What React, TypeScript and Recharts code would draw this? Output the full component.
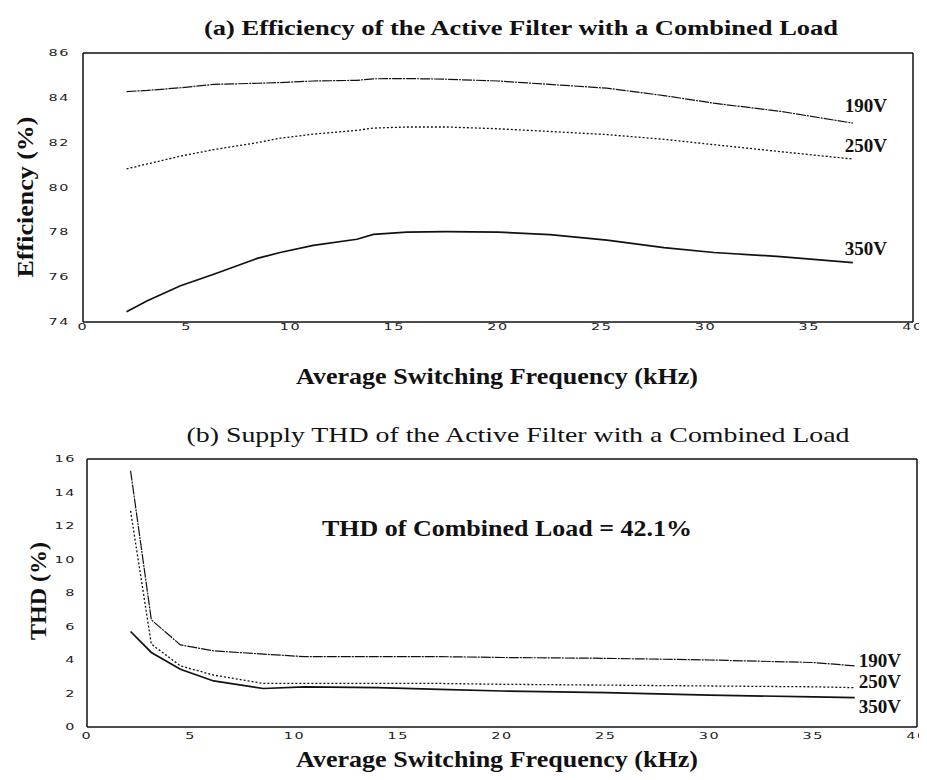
import React from 'react';
import { LineChart, Line, XAxis, YAxis } from 'recharts';

// ---------- (a) Efficiency ----------
const effFreq = [2.1, 3.1, 4.7, 6.3, 8.4, 9.5, 11.1, 13.2, 14.0, 15.6, 17.5, 20, 22.5, 25.25, 28, 30.4, 33.6, 37.1];
const eff190 = [84.28, 84.33, 84.45, 84.6, 84.65, 84.68, 84.75, 84.78, 84.85, 84.86, 84.83, 84.75, 84.6, 84.43, 84.1, 83.76, 83.4, 82.87];
const eff250 = [80.83, 81.05, 81.4, 81.69, 82.0, 82.2, 82.38, 82.55, 82.65, 82.7, 82.7, 82.62, 82.5, 82.36, 82.15, 81.91, 81.6, 81.27];
const eff350 = [74.46, 74.95, 75.62, 76.13, 76.84, 77.1, 77.42, 77.69, 77.91, 78.01, 78.03, 78.01, 77.9, 77.65, 77.32, 77.1, 76.92, 76.65];
const effTicksY = [74, 76, 78, 80, 82, 84, 86];

// ---------- (b) THD ----------
const thdFreq = [2.1, 3.1, 4.5, 6.1, 8.5, 10.5, 14, 17, 20, 25, 30, 35, 37];
const thd190 = [15.3, 6.4, 4.9, 4.55, 4.35, 4.2, 4.2, 4.2, 4.15, 4.1, 4.0, 3.85, 3.65];
const thd250 = [12.9, 4.95, 3.65, 3.1, 2.6, 2.6, 2.6, 2.6, 2.55, 2.5, 2.45, 2.4, 2.35];
const thd350 = [5.7, 4.45, 3.45, 2.75, 2.3, 2.4, 2.35, 2.25, 2.15, 2.05, 1.9, 1.8, 1.75];
const thdTicksY = [0, 2, 4, 6, 8, 10, 12, 14, 16];

const freqTicks = [0, 5, 10, 15, 20, 25, 30, 35, 40];
const seriesNames = ['190V', '250V', '350V'];

const effData = effFreq.map((f, i) => ({ f, v190: eff190[i], v250: eff250[i], v350: eff350[i] }));
const thdData = thdFreq.map((f, i) => ({ f, v190: thd190[i], v250: thd250[i], v350: thd350[i] }));

const SERIF = '"Liberation Serif", "DejaVu Serif", serif';
const TICKFONT = '"DejaVu Sans", sans-serif';
const INK = '#111';

const WideTick = (props: any) => {
  const { x, y, payload, textAnchor } = props;
  return (
    <g transform={`translate(${x},${y})`}>
      <text transform="scale(1.6,1)" textAnchor={textAnchor} dy="0.35em"
        fontFamily={TICKFONT} fontSize={9} fill="#222" letterSpacing={1}>
        {payload.value}
      </text>
    </g>
  );
};

const endLabel = (text: string, last: number, dx: number, dy: number) => (props: any) => {
  if (props.index !== last) return <g />;
  return (
    <text x={props.x + dx} y={props.y + dy} fontFamily={SERIF} fontWeight="bold" fontSize={19} fill={INK} dominantBaseline="central">
      {text}
    </text>
  );
};

const lineStyle: Record<string, any> = {
  v190: { stroke: INK, strokeWidth: 1.2, strokeDasharray: '10 1 2 1' },
  v250: { stroke: INK, strokeWidth: 1.3, strokeDasharray: '2 2' },
  v350: { stroke: INK, strokeWidth: 1.7 },
};

const W = 919;

export default function App() {
  const effLast = effFreq.length - 1;
  const thdLast = thdFreq.length - 1;
  const keys = ['v190', 'v250', 'v350'];
  return (
    <div style={{ position: 'relative', width: W, height: 764, background: '#fff' }}>
      {/* Chart (a) */}
      <div style={{ position: 'absolute', left: 0, top: 0 }}>
        <LineChart width={W} height={340} data={effData} margin={{ top: 45, right: 14, bottom: 25, left: 74 }}>
          <XAxis xAxisId="x" dataKey="f" type="number" domain={[0, 40]} ticks={freqTicks} height={1}
            axisLine={{ stroke: INK, strokeWidth: 1.5 }} tickLine={false} tickSize={0} tickMargin={5}
            tick={<WideTick />} allowDataOverflow interval={0} />
          <XAxis xAxisId="xb" type="number" domain={[0, 40]} ticks={freqTicks} height={1} mirror
            axisLine={false} tickLine={{ stroke: INK }} tickSize={5} tick={false} allowDataOverflow interval={0} />
          <XAxis xAxisId="xt" orientation="top" type="number" domain={[0, 40]} ticks={freqTicks} height={1} mirror
            axisLine={{ stroke: INK, strokeWidth: 1.5 }} tickLine={{ stroke: INK }} tickSize={5} tick={false} allowDataOverflow interval={0} />
          <YAxis yAxisId="y" type="number" domain={[74, 86]} ticks={effTicksY} width={1}
            axisLine={{ stroke: INK, strokeWidth: 1.5 }} tickLine={false} tickSize={0} tickMargin={13}
            tick={<WideTick />} allowDataOverflow interval={0} />
          <YAxis yAxisId="yl" type="number" domain={[74, 86]} ticks={effTicksY} width={1} mirror
            axisLine={false} tickLine={{ stroke: INK }} tickSize={7} tick={false} allowDataOverflow interval={0} />
          <YAxis yAxisId="yr" orientation="right" type="number" domain={[74, 86]} ticks={effTicksY} width={1} mirror
            axisLine={{ stroke: INK, strokeWidth: 1.5 }} tickLine={{ stroke: INK }} tickSize={7} tick={false} allowDataOverflow interval={0} />
          {keys.map((k, i) => (
            <Line key={k} xAxisId="x" yAxisId="y" dataKey={k} type="linear" dot={false} isAnimationActive={false}
              {...lineStyle[k]}
              label={endLabel(seriesNames[i], effLast, -8, k === 'v190' ? -18 : -14)} />
          ))}
        </LineChart>
      </div>

      {/* Chart (b) */}
      <div style={{ position: 'absolute', left: 0, top: 400 }}>
        <LineChart width={W} height={364} data={thdData} margin={{ top: 51, right: 10, bottom: 44, left: 78 }}>
          <XAxis xAxisId="x" dataKey="f" type="number" domain={[0, 40]} ticks={freqTicks} height={1}
            axisLine={{ stroke: INK, strokeWidth: 1.5 }} tickLine={false} tickSize={0} tickMargin={9}
            tick={<WideTick />} allowDataOverflow interval={0} />
          <XAxis xAxisId="xb" type="number" domain={[0, 40]} ticks={freqTicks} height={1} mirror
            axisLine={false} tickLine={{ stroke: INK }} tickSize={5} tick={false} allowDataOverflow interval={0} />
          <XAxis xAxisId="xt" orientation="top" type="number" domain={[0, 40]} ticks={freqTicks} height={1} mirror
            axisLine={{ stroke: INK, strokeWidth: 1.5 }} tickLine={{ stroke: INK }} tickSize={5} tick={false} allowDataOverflow interval={0} />
          <YAxis yAxisId="y" type="number" domain={[0, 16]} ticks={thdTicksY} width={1}
            axisLine={{ stroke: INK, strokeWidth: 1.5 }} tickLine={false} tickSize={0} tickMargin={11}
            tick={<WideTick />} allowDataOverflow interval={0} />
          <YAxis yAxisId="yl" type="number" domain={[0, 16]} ticks={thdTicksY} width={1} mirror
            axisLine={false} tickLine={{ stroke: INK }} tickSize={7} tick={false} allowDataOverflow interval={0} />
          <YAxis yAxisId="yr" orientation="right" type="number" domain={[0, 16]} ticks={thdTicksY} width={1} mirror
            axisLine={{ stroke: INK, strokeWidth: 1.5 }} tickLine={{ stroke: INK }} tickSize={7} tick={false} allowDataOverflow interval={0} />
          {keys.map((k, i) => (
            <Line key={k} xAxisId="x" yAxisId="y" dataKey={k} type="linear" dot={false} isAnimationActive={false}
              {...lineStyle[k]}
              label={endLabel(seriesNames[i], thdLast, 4, k === 'v190' ? -5 : k === 'v250' ? -6 : 9)} />
          ))}
        </LineChart>
      </div>

      {/* Titles and axis labels */}
      <svg width={W} height={764} style={{ position: 'absolute', left: 0, top: 0, pointerEvents: 'none' }}>
        <text x={513} y={27} textAnchor="middle" fontFamily={SERIF} fontWeight="bold" fontSize={21} fill={INK}
          textLength={634} lengthAdjust="spacingAndGlyphs">
          (a) Efficiency of the Active Filter with a Combined Load
        </text>
        <text transform="translate(17,189) rotate(-90)" textAnchor="middle" dominantBaseline="central"
          fontFamily={SERIF} fontWeight="bold" fontSize={23} fill={INK} textLength={161} lengthAdjust="spacingAndGlyphs">
          Efficiency (%)
        </text>
        <text x={489} y={376} textAnchor="middle" fontFamily={SERIF} fontWeight="bold" fontSize={23} fill={INK}
          textLength={402} lengthAdjust="spacingAndGlyphs">
          Average Switching Frequency (kHz)
        </text>
        <text x={510} y={434} textAnchor="middle" fontFamily={SERIF} fontSize={21} fill={INK}
          textLength={663} lengthAdjust="spacingAndGlyphs">
          (b) Supply THD of the Active Filter with a Combined Load
        </text>
        <text transform="translate(30,583) rotate(-90)" textAnchor="middle" dominantBaseline="central"
          fontFamily={SERIF} fontWeight="bold" fontSize={23} fill={INK} textLength={98} lengthAdjust="spacingAndGlyphs">
          THD (%)
        </text>
        <text x={489} y={759} textAnchor="middle" fontFamily={SERIF} fontWeight="bold" fontSize={23} fill={INK}
          textLength={402} lengthAdjust="spacingAndGlyphs">
          Average Switching Frequency (kHz)
        </text>
        <text x={499} y={520} textAnchor="middle" dominantBaseline="central" fontFamily={SERIF} fontWeight="bold" fontSize={23} fill={INK}
          textLength={370} lengthAdjust="spacingAndGlyphs">
          THD of Combined Load = 42.1%
        </text>
      </svg>
    </div>
  );
}
